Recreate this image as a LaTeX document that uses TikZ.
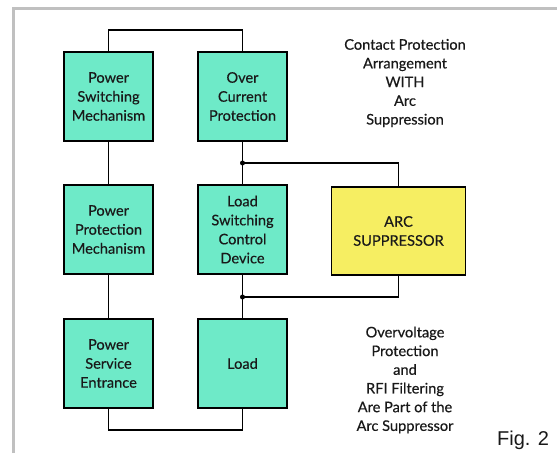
\documentclass[tikz,border=0pt]{standalone}
\usepackage{fontspec}
\setmainfont{Lato}
\newfontfamily\gillish[FakeBold=0.35]{Lato}
\newfontfamily\figfont{Liberation Sans}
\definecolor{boxteal}{RGB}{110,234,200}
\definecolor{boxyellow}{RGB}{246,238,98}
\definecolor{framegray}{RGB}{192,192,192}
\definecolor{txt}{RGB}{25,25,25}
\begin{document}
\begin{tikzpicture}[x=1pt,y=-1pt,
  blk/.style={draw=black,line width=1.6pt,fill=boxteal,minimum width=89pt,minimum height=89pt,inner sep=0pt,align=center,text=txt,font=\gillish\fontsize{14.6}{19}\selectfont},
  arcbox/.style={blk,fill=boxyellow,minimum width=134pt,minimum height=88pt},
  wire/.style={draw=black,line width=1.6pt},
  note/.style={align=center,text=txt,font=\gillish\fontsize{14.6}{18.7}\selectfont},
  jdot/.style={circle,fill=black,inner sep=0pt,minimum size=5pt}]
\useasboundingbox (0,0) rectangle (557,453);
\fill[white] (0,0) rectangle (557,453);
\draw[framegray,line width=2.5pt] (13.5,453) -- (13.5,8.5) -- (557,8.5);
\node[blk] (psm) at (108.5,96.5) {Power\\Switching\\Mechanism};
\node[blk] (ocp) at (242.5,96.5) {Over\\Current\\Protection};
\node[blk] (ppm) at (108.5,229.5) {Power\\Protection\\Mechanism};
\node[blk] (lscd) at (242.5,229.5) {Load\\Switching\\Control\\Device};
\node[blk] (pse) at (108.5,363.5) {Power\\Service\\Entrance};
\node[blk] (load) at (242.5,363.5) {Load};
\node[arcbox] (arc) at (398.5,231) {ARC\\SUPPRESSOR};
\coordinate (t1) at (108.5,30);
\coordinate (t2) at (242.5,30);
\coordinate (b1) at (108.5,430);
\coordinate (b2) at (242.5,430);
\node[jdot] (j1) at (242.5,163) {};
\node[jdot] (j2) at (242.5,297) {};
\coordinate (c1) at (398.5,163);
\coordinate (c2) at (398.5,297);
\draw[wire] (psm.north) -- (t1) -- (t2) -- (ocp.north);
\draw[wire] (psm) -- (ppm);
\draw[wire] (ppm) -- (pse);
\draw[wire] (pse.south) -- (b1) -- (b2) -- (load.south);
\draw[wire] (ocp) -- (lscd);
\draw[wire] (lscd) -- (load);
\draw[wire] (j1.center) -- (c1) -- (arc.north);
\draw[wire] (j2.center) -- (c2) -- (arc.south);
\node[note] (n1) at (405,83) {Contact Protection\\Arrangement\\WITH\\Arc\\Suppression};
\node[note] (n2) at (405,380) {Overvoltage\\Protection\\and\\RFI Filtering\\Are Part of the\\Arc Suppressor};
\node[anchor=base west,inner sep=0pt,font=\figfont\fontsize{20}{24}\selectfont,text=txt] (fig) at (497,445) {Fig. 2};
\end{tikzpicture}
\end{document}
